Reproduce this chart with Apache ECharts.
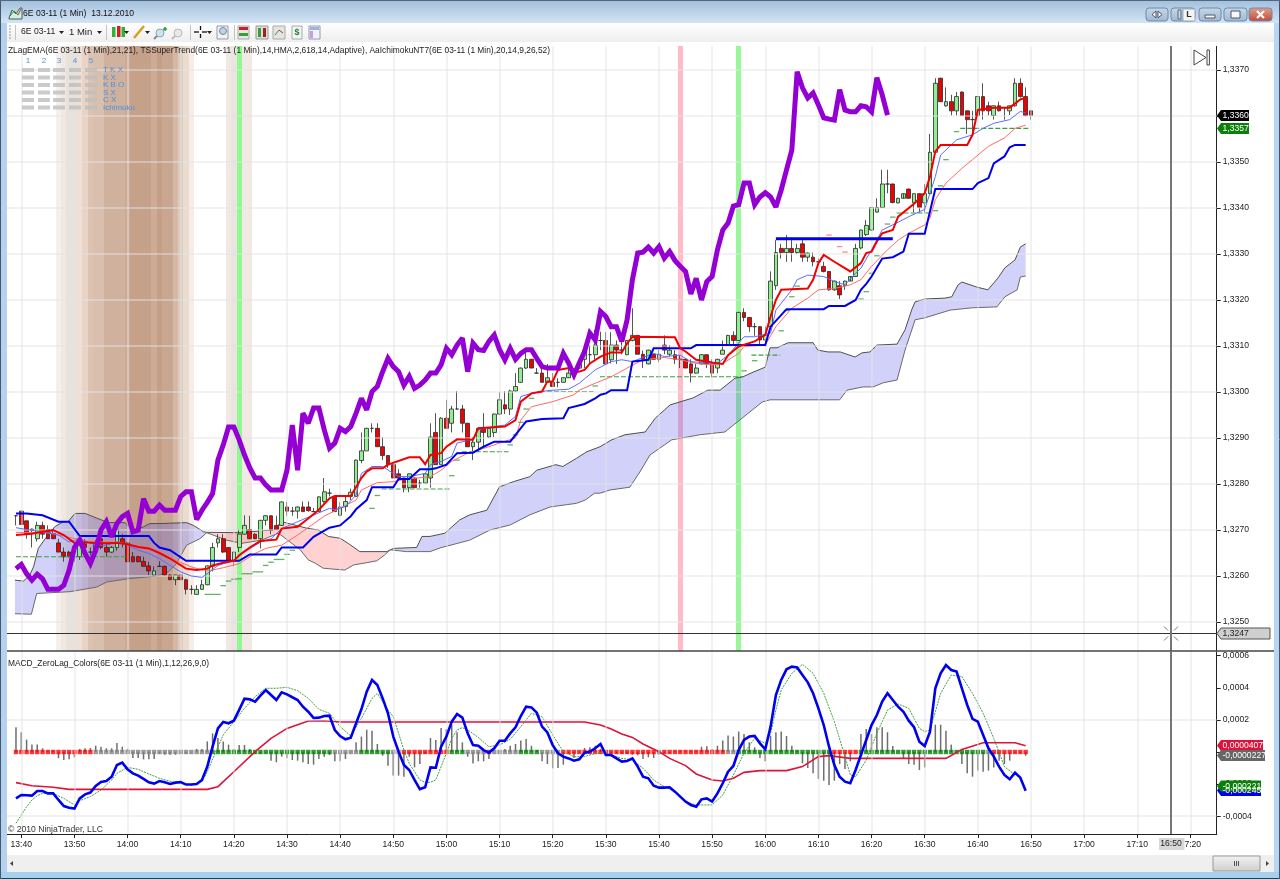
<!DOCTYPE html>
<html><head><meta charset="utf-8">
<style>html,body{margin:0;padding:0;background:#fff}#c{width:1280px;height:879px}</style>
<script src="https://cdn.jsdelivr.net/npm/echarts@6/dist/echarts.min.js"></script>
</head><body><div id="c"></div>
<script>
// Bars are numbered in minutes after 13:40; prices are in 1/10000 units, MACD in 1/10000 units.
const firstBar = -1;
const candleOpen = [13273.1,13274.1,13272,13270.2,13268.1,13271,13270.1,13269.2,13267.2,13265.2,13265.2,
13264.2,13264.2,13267,13265.2,13265.2,13268.1,13266.2,13265.2,13266.2,13268.1,
13267.2,13264.2,13264.2,13263.2,13262.2,13260.2,13262.1,13262.1,13260.2,13259.2,
13260.2,13259.2,13257.1,13256,13257.1,13258.1,13262.1,13267.2,13268.1,13266.2,
13263.2,13266.2,13269.1,13270.1,13269.1,13268.1,13272.1,13273.1,13271,13271,
13275,13274.1,13274.1,13275,13275,13274,13274,13276.2,13278,13277.3,
13273.2,13275.1,13277.3,13277.3,13285.1,13287.2,13292.1,13292.1,13288.1,13286.2,
13284.2,13282.2,13281.3,13279.2,13281.3,13280.2,13280.2,13281.3,13291.2,13284.2,
13294.3,13293.2,13296.3,13296.3,13293.2,13288.1,13289.1,13292.1,13290.2,13291.2,
13295.2,13297.2,13296.3,13300.2,13302.1,13305.2,13307.1,13304.1,13304.1,13302.1,
13302.1,13302.1,13302.1,13303.1,13304.1,13305.2,13307.1,13308.1,13308.1,13311.2,
13311.2,13307,13310.2,13309.1,13308.1,13311.2,13312.3,13308.2,13306.1,13308.2,
13307.1,13310.2,13308.2,13308.1,13307.1,13307.1,13306.1,13304.1,13306.1,13308.1,
13306.1,13305.2,13308.2,13310.2,13312.3,13311.2,13317.3,13316.2,13314.2,13314.2,
13311.3,13314.2,13323.1,13331.2,13330.3,13331.2,13330.3,13332.2,13329.3,13329.3,
13328.3,13327.3,13326.2,13322.2,13323.1,13323.1,13324.1,13325.1,13331.3,13334.2,
13335.2,13339.1,13340.1,13345.2,13345.2,13341.1,13342.1,13344.1,13341.1,13343.1,
13341.1,13343.1,13352.1,13368.2,13362.2,13363.1,13361.1,13365.2,13361.1,13359.2,
13360.1,13364.2,13362.2,13360.1,13362.2,13361.8,13361.1,13362.2,13367.1,13364.2,13361.1];
const candleClose = [13273.1,13271.2,13269.1,13270,13271,13269.1,13268.1,13268.1,13265.2,13264.2,13264.2,
13264.2,13268.1,13266.2,13265.2,13267.2,13266.2,13265.2,13266.2,13270.1,13267.2,
13263.1,13263.1,13263.1,13262.1,13261.1,13261.1,13262.1,13260.2,13259.2,13260.2,
13259.2,13257.1,13257.1,13257.1,13258.1,13262.2,13266.2,13268.1,13265.2,13263.2,
13265.2,13269.1,13271,13268.1,13268.1,13272.1,13273.1,13270.1,13270.1,13276.1,
13274.1,13274.1,13275,13274,13274.2,13274,13277.2,13278.3,13278,13274,
13275,13276.2,13278.2,13285.2,13287.2,13292.1,13292.1,13288.1,13286.2,13284.2,
13281.3,13281.3,13279.2,13282.2,13279.2,13280.2,13282.2,13290.2,13284.2,13294.3,
13292.1,13296.3,13296.3,13293.2,13288.1,13289.1,13292.1,13291.2,13292.1,13295.2,
13298.3,13296.3,13300.2,13301.2,13305.2,13307.1,13305.2,13304.1,13302.1,13303.1,
13301.2,13302.1,13303.1,13304.1,13304.4,13306.1,13309.1,13308.1,13310.2,13311.2,
13306.1,13310.2,13309.1,13309.1,13311.2,13312.3,13308.2,13307.1,13309.1,13307.1,
13308.2,13309.1,13309.1,13307.1,13307.1,13305.2,13304.1,13305.2,13308.1,13306.1,
13304.1,13307.1,13309.1,13312.3,13311.2,13317.3,13316.2,13314.2,13314.2,13311.3,
13312.3,13324.1,13330.3,13330.3,13331.2,13330.3,13331.2,13329.3,13330.2,13328.3,
13328.3,13326.2,13322.2,13324.1,13321.1,13324.1,13325.1,13331.2,13335.2,13336.2,
13340.1,13340.1,13345.2,13345.2,13341.2,13342.1,13343.1,13342.1,13343.1,13340.1,
13343.1,13352.1,13367.1,13363.1,13363.1,13361.1,13364.2,13360.1,13359.2,13359.2,
13364.2,13361.1,13361.1,13362.2,13361.1,13361.8,13362.2,13367.1,13364.2,13360.1,13360.1];
const candleLow = [13271,13271.2,13268.1,13266.2,13267.5,13268.1,13268.1,13268.1,13265.2,13263.1,13264,
13263.1,13263.5,13265,13264.5,13264.8,13265.8,13264.2,13265,13265.5,13266.2,
13263,13263,13263,13262,13260.2,13260,13262,13260.1,13259.1,13258,
13259.1,13256,13256,13256,13257,13258,13261,13266.2,13265,13263.1,
13262.1,13265.2,13269,13268,13268,13266,13271,13269.1,13270,13270.9,
13273.1,13273.1,13272.5,13274,13274,13273.9,13274,13275.9,13277.3,13274,
13273,13274,13276.5,13277.3,13284.5,13287.2,13291.2,13288.1,13285.2,13283.5,
13281.3,13281.3,13278.2,13278.2,13279.2,13279.2,13280.2,13279.2,13284.2,13284.2,
13292,13291.2,13296.2,13291.2,13288,13285.2,13287,13288.1,13290,13290.2,
13295,13295.2,13295,13300,13302,13305,13305.2,13304,13302,13302,
13301.2,13301,13302,13303,13303.2,13305,13305.2,13306,13307.1,13309.1,
13306,13306.2,13306.1,13308.2,13308,13311,13308.2,13305.2,13306,13307,
13306.5,13308.2,13307.7,13306.1,13305.2,13305.2,13302.1,13304,13306,13305.2,
13303.2,13304.1,13308.2,13310,13310.2,13311.2,13315.4,13313.1,13312.2,13310.2,
13310.2,13314,13322.2,13329,13328.3,13328.3,13330,13328.3,13328.3,13327.3,
13327.5,13326,13322,13322,13320.2,13322.2,13325,13325,13331,13333.9,
13335,13339,13340,13343.2,13341,13341,13343,13342,13339,13339,
13339,13343,13352,13363,13362,13360.1,13360.1,13360,13356.1,13356.1,
13360,13359.2,13360.1,13359.2,13361,13359.2,13360.2,13362,13364,13359.9,13359.2];
const candleHigh = [13273.2,13274.2,13272,13270.3,13271.8,13271.8,13271,13270,13268.1,13266.2,13265.5,
13265.2,13268.5,13268,13266.2,13267.8,13268.5,13267,13266.5,13271,13269.1,
13267.4,13265.2,13264.4,13264.2,13263.1,13262.1,13263.2,13262.3,13260.4,13260.3,
13260.3,13259.4,13258,13258,13259.2,13262.3,13267.2,13269.1,13269.1,13266.3,
13265.3,13270.1,13273.2,13273.1,13269.3,13272.2,13273.2,13273.2,13273.1,13276.2,
13276.1,13275,13275.1,13276.2,13276.2,13274.8,13277.3,13281.3,13279,13277.4,
13276,13277.3,13279,13285.3,13291.2,13292.2,13293.2,13293.2,13290.2,13286.3,
13284.3,13283.2,13281.4,13282.3,13281.4,13280.9,13282.3,13293.2,13295.4,13294.5,
13298.3,13297,13300.2,13297.2,13293.3,13290.2,13292.2,13295.4,13292.2,13295.3,
13300,13300.2,13300.5,13304.1,13305.3,13309.2,13307.2,13305.2,13306.1,13306.1,
13304.1,13303,13303.2,13306.3,13305.2,13307,13310.2,13310.2,13313.5,13313.1,
13313,13313,13311.2,13311.2,13311.3,13318.2,13312.4,13309,13309.2,13308.3,
13309.1,13312.3,13310.2,13309.1,13308,13307.2,13307.1,13306.1,13308.2,13308.2,
13307.1,13307.2,13311.2,13312.4,13313.2,13317.4,13318.2,13316.3,13315,13314.3,
13314.2,13326.2,13333,13332.2,13334.1,13333,13332.2,13333,13330.3,13330.3,
13329,13328.3,13326.3,13324.2,13324.1,13324.2,13325.2,13332.2,13335.3,13337.4,
13340.2,13342.1,13348.3,13348.3,13345.3,13342.2,13343.2,13344.2,13343.2,13343.2,
13345.2,13356.1,13368.2,13368.3,13366.2,13364.6,13365.2,13365.3,13361.2,13361.1,
13364.3,13367.1,13363.1,13362.3,13363.1,13361.9,13362.3,13368.2,13368.2,13366.2,13361.2];

const purpleLine = [13261.6,13262.5,13260.5,13259.1,13260.4,13259.4,13257.1,13257.1,13257.1,13258,13261.3,
13266.2,13267.8,13264.9,13262.7,13265.6,13270,13271.8,13268.5,13271.4,13272.9,
13273.6,13269.6,13270,13276.8,13274.1,13274.1,13275.4,13274.3,13274.3,13274.3,
13277.3,13278.3,13278.3,13272.3,13274.3,13276,13277.9,13285.2,13288.5,13292.4,
13292.4,13289.6,13286.3,13283.5,13281.3,13281.3,13279.8,13278.7,13278.7,13278.7,
13283,13292.8,13283,13295.4,13293.2,13296.5,13296.5,13291.8,13287.8,13288.9,
13292.1,13291.4,13292.5,13295.4,13298.6,13296.1,13300.1,13301.2,13304.4,13307.3,
13305.5,13304.4,13301.5,13303.4,13300.8,13301.5,13302.6,13304.1,13304.1,13305.9,
13309.5,13308.1,13310.2,13311.7,13304.4,13310.6,13309.2,13309,13311,13312.4,
13309.2,13307,13309.5,13307.1,13308.4,13309.2,13309.2,13307.3,13305.5,13305.2,
13305.2,13305.2,13308.4,13306.3,13303.7,13306.3,13308.8,13312.8,13311.3,13317.5,
13316.4,13314.2,13314.2,13311,13315.7,13324.4,13330.2,13330.4,13331.5,13330.2,
13331.6,13329.1,13330.5,13328.6,13327.3,13326.2,13321.3,13324.7,13320,13324,
13325.1,13330.9,13335.2,13336.7,13340.4,13340.7,13345.4,13345.4,13340.7,13342.4,
13343.3,13342.4,13340.2,13343.9,13348.3,13352.6,13369.6,13366.1,13363.9,13365,
13362.4,13359.6,13359.3,13359.1,13365.7,13361.3,13360.9,13360.9,13362.2,13362,
13360.9,13368.3,13364.6,13360.2];

const redThick = [[-1,13268.9],[2,13269.2],[4,13269.6],[6,13270],[8,13268.9],[10,13267.2],[11,13267.4],[15,13267.1],[18,13267.2],[20,13266.9],[22,13266.3],[24,13266],[26,13265],[28,13263.8],[31,13261.6],[33,13261.3],[35,13261.6],[36,13262.3],[38,13262.9],[40,13263.3],[41,13264.5],[43,13266.2],[45,13267.6],[48,13267.9],[49,13270.3],[52,13270.7],[54,13272.5],[56,13274.4],[58,13276.9],[59,13277.4],[62,13277.4],[64,13281.3],[65,13282.7],[66,13283.4],[68,13283.4],[69,13284.2],[73,13285.8],[75,13285.8],[76,13284.3],[77,13286.3],[79,13286.7],[80,13288.1],[82,13289.7],[85,13289.6],[86,13292.1],[91,13292.5],[93,13293.9],[94,13297.9],[96,13299.7],[98,13300.1],[99,13302.3],[100,13302.3],[101,13304.8],[103,13305.2],[104,13304.1],[106,13304.8],[107,13306.2],[109,13307.7],[111,13308.6],[113,13308.6],[114,13310.6],[115,13312],[123,13311.9],[124,13309.5],[125,13308.8],[127,13307],[130,13306.4],[132,13306.1],[133,13308],[135,13309.9],[138,13311],[140,13312.4],[141,13316.4],[142,13320],[143,13322.2],[148,13322.5],[149,13324.4],[150,13328],[151,13329.8],[153,13328.3],[156,13326.2],[158,13328],[159,13330.2],[160,13330.5],[161,13332.7],[162,13334.5],[164,13335.2],[165,13338.1],[168,13340.9],[170,13343.2],[171,13346.8],[172,13352.3],[173,13353.7],[178,13353.7],[179,13355.9],[180,13361.3],[183,13361.8],[186,13361.8],[188,13363.6],[189,13363.9]];
const blueThin = [[-1,13270.5],[1,13270.1],[4,13269.6],[7,13268.9],[9,13267.4],[11,13268.1],[14,13266.7],[16,13266.7],[18,13267.4],[20,13266.7],[22,13265.6],[24,13264.9],[26,13263.8],[28,13262.3],[30,13260.9],[32,13260],[34,13259.7],[35,13260.5],[37,13262.3],[40,13263.4],[42,13265.2],[45,13267.4],[47,13268.1],[49,13270.3],[52,13271.8],[58,13274.7],[59,13274.4],[61,13275.1],[63,13277.6],[64,13282.3],[66,13283.8],[68,13283.8],[70,13282.3],[71,13281.6],[73,13281.6],[76,13282.3],[77,13284.2],[79,13284.9],[81,13286],[82,13288.9],[85,13289.7],[86,13291.8],[89,13292.5],[91,13292.8],[93,13294.7],[94,13299],[96,13299.7],[99,13300.3],[103,13300.6],[105,13301.9],[108,13304.8],[111,13306.6],[113,13307],[115,13306.6],[119,13308.4],[121,13307.7],[124,13308],[126,13306.6],[130,13306.2],[131,13306.2],[133,13308],[136,13312],[138,13312],[141,13312.8],[142,13317.8],[145,13322.2],[146,13324.4],[148,13325.4],[151,13325.1],[153,13324],[155,13323.3],[157,13325.8],[158,13326.9],[160,13330.9],[162,13335.2],[165,13336.9],[167,13338.1],[170,13339.7],[171,13343.2],[172,13346.8],[173,13351.5],[176,13354.8],[179,13355.9],[181,13357.3],[183,13358.4],[186,13359.2],[188,13361],[189,13360.6]];
const redThin = [[-1,13269.5],[5,13269.4],[9,13268.4],[13,13267.4],[18,13267.4],[22,13266.5],[24,13266.2],[27,13264.5],[29,13263.4],[32,13262],[34,13261.3],[36,13261.3],[38,13261.8],[41,13262.7],[44,13264.9],[46,13266],[49,13266.7],[52,13268.9],[57,13273],[63,13276.5],[64,13278.7],[67,13280.3],[70,13280.5],[72,13281],[77,13281.6],[79,13283],[81,13284.9],[84,13286.7],[85,13287],[88,13288.1],[90,13288.9],[93,13290],[94,13293.9],[96,13296.8],[100,13297.9],[104,13299.4],[105,13300.4],[108,13301.9],[111,13303.3],[114,13305.2],[117,13307],[121,13307.5],[124,13307],[127,13306.2],[130,13305.9],[132,13306.2],[135,13308.4],[136,13309.9],[140,13310.2],[142,13314.2],[145,13318.2],[148,13320.4],[150,13322.2],[153,13322.5],[156,13323.3],[158,13324.4],[160,13327.3],[163,13330.9],[165,13333],[167,13334.5],[170,13336.3],[171,13337.8],[172,13341.8],[174,13345.4],[177,13348.6],[179,13350.5],[182,13353.4],[185,13355.2],[187,13357.3],[189,13358]];
const blueStop = [[-1,13273.6],[1,13273.6],[4,13273.2],[7,13271.8],[9,13271.8],[11,13268.7],[24,13268.7],[25,13267.2],[26,13266.2],[28,13265.6],[31,13263.3],[41,13263.3],[43,13264.7],[48,13264.7],[49,13266.2],[53,13266.2],[55,13268.5],[58,13270.5],[60,13271],[62,13273],[63,13274.5],[65,13276.5],[66,13279.3],[70,13279.3],[71,13281.1],[73,13281.1],[75,13283.2],[77,13283.2],[78,13283.4],[80,13284.2],[82,13286.7],[85,13286.8],[87,13288.1],[89,13289.2],[92,13289.2],[95,13293.6],[98,13294.1],[102,13294.3],[103,13296.5],[106,13297.4],[108,13298.6],[109,13299.4],[110,13299.7],[111,13300.4],[114,13300.4],[115,13306.6],[118,13307],[119,13309.5],[126,13309.5],[127,13310.2],[140,13310.2],[141,13314.2],[144,13318],[151,13318],[152,13318.7],[155,13318.7],[157,13320],[158,13322.2],[159,13323.5],[160,13325.1],[162,13329],[164,13329.3],[166,13330.5],[167,13334.4],[170,13334.4],[172,13344.1],[179,13344.1],[180,13345.4],[182,13346.5],[183,13349.7],[185,13351.2],[186,13353.2],[187,13353.7],[189,13353.7]];
const blueLevel = [[142,13333.3],[164,13333.3]];

const cloudTop = [[-1.2,13259.1],[0.4,13258.9],[1.6,13260.2],[2.3,13262],[3.2,13266],[4.5,13268.1],[6.3,13270.7],[7.9,13271.8],[8.8,13271.8],[10.1,13273.6],[12,13273.6],[14.8,13272.3],[16.4,13271.6],[19.5,13271.6],[21.1,13269.8],[23,13270.7],[24.2,13271.4],[26.1,13271.4],[31.1,13271.6],[32.4,13271],[34.3,13269.6],[34.9,13269.5],[41.8,13269.4],[45.6,13269.9],[47.4,13269.9],[49,13271.8],[53.7,13270.4],[55.9,13270],[57.8,13268.6],[60,13268.2],[61.5,13267.1],[63.7,13265.3],[68.8,13265.3],[70,13266],[74.4,13266.2],[75.4,13268.6],[76.9,13268.6],[79.7,13269.3],[82.5,13272.2],[84.4,13273.3],[87.6,13274.3],[90,13279.4],[92.6,13280.5],[95.7,13281.6],[97,13283],[100.6,13284.2],[101.9,13283.8],[104.5,13285.6],[106.4,13287],[108.9,13288.1],[111.1,13289.6],[113.6,13290.7],[117.4,13291.3],[119.3,13294.3],[122.1,13297.2],[126.4,13298.7],[129.2,13300.4],[131.5,13300.4],[134.3,13303],[135.8,13303.3],[137.7,13304.3],[140,13305.4],[140.9,13309.6],[142.2,13309.6],[144.3,13310.7],[149,13310.7],[149.9,13309.1],[151.8,13308.7],[154.1,13308.7],[156.9,13307.6],[158.2,13308.5],[159.7,13308.7],[161,13310.2],[164.8,13310.4],[166.3,13313.5],[167.6,13318],[168.2,13319.6],[170,13320.2],[173.8,13320.4],[175.1,13320.7],[176.3,13323.3],[177,13323.9],[179.8,13322.8],[181.9,13322.2],[183.8,13324.8],[185.1,13327],[187,13328.7],[188,13331.5],[189,13332.2]];
const cloudBottom = [[-1.2,13251.8],[1.9,13251.7],[2.9,13256.2],[9.2,13256.6],[14.2,13257.6],[16.1,13258.7],[20.1,13259.4],[25.5,13260],[27.7,13260.9],[29.2,13262.7],[31.1,13266.7],[33.6,13268.1],[34.9,13269.4],[36.1,13268.9],[38.6,13267.8],[41.5,13267.1],[45.2,13267.8],[48.4,13269.3],[52.5,13265.7],[54,13263.5],[55.3,13262.8],[56.8,13261.7],[58.7,13261.5],[60.9,13261.3],[62.5,13262.4],[65,13262.9],[66.9,13263.3],[68.4,13264.6],[69.4,13265.7],[72.5,13265.3],[76.9,13265.3],[78.8,13266.1],[84.4,13267.8],[88.2,13270],[92,13271.1],[95.7,13273.3],[99.5,13275],[102.6,13275.5],[104.5,13275.8],[106.1,13276.5],[107.9,13278],[108.9,13278],[110.8,13278.7],[114.5,13279.3],[116.4,13282.6],[118.3,13286.3],[122.4,13289.6],[127.7,13290.7],[132.4,13291.3],[135.2,13293.9],[139.4,13297.8],[140.9,13298.3],[154,13298.3],[155.4,13300.4],[158.4,13301.1],[160.3,13301.1],[162.2,13302],[164.8,13302.6],[166.3,13309.1],[168.2,13315.7],[170,13316.1],[174.8,13317.8],[179,13318.3],[183.6,13318.5],[185.1,13320.7],[187.4,13322.2],[188,13325],[189,13325.2]];
const cloudSections = [[-1.2,34.9,0],[34.9,69.4,1],[69.4,189,0]];

const stopRuns = [[-1,20,13264.2],[67.8,80.9,13278.9],[82.9,91.7,13287],[97.6,107.7,13300.1],[108.9,135.9,13303.3],[137.4,142.8,13308],[164.7,171.3,13338.9],[176.7,189.5,13357.3]];
const stopTicks = [[35,13256],[36,13256],[37,13256],[38,13257.9],[39,13258.9],[40,13259.3],[41,13259.4],[42,13260.5],[43,13260.5],[44,13260.9],[45,13260.9],[46,13262.3],[47,13263],[48,13263.6],[49,13263.6],[50,13264.7],[51,13265.6],[66,13274.7],[67,13277.5],[81,13281.8],[82,13285.2],[92,13288.5],[93,13290.7],[94,13293.4],[95,13296.3],[96,13298.6],[108,13301.3],[136,13304.6],[138,13306.8],[143,13313.3],[144,13317.7],[145,13320.7],[146,13323],[158,13320.2],[159,13321.8],[160,13325.8],[161,13329.6],[163,13336.5],[164,13338],[172,13339.4],[173,13344.8],[174,13350.5],[176,13356.6]];
const riseTicks = [[152,13334.1],[154,13331.6],[155,13330.4],[20,13272.6],[21,13271.5],[24,13266.2],[26,13265.3],[28,13264],[29,13263.4],[30,13262.4],[32,13261.4]];

const macdLine = [-2.89,-2.68,-2.70,-2.72,-2.43,-2.43,-2.58,-2.58,-2.99,-3.37,-3.47,-3.53,-2.89,-2.64,-2.53,-2.12,-1.87,-1.81,-1.54,-0.81,-0.66,-1.08,-1.33,-1.47,-1.68,-1.89,-1.97,-1.81,-1.89,-1.99,-1.91,-1.87,-2.03,-2.03,-1.99,-1.74,-0.91,0.33,1.47,1.87,1.79,1.95,2.62,3.32,3.28,3.14,3.51,3.86,3.55,3.24,3.72,3.59,3.41,3.24,2.82,2.51,2.12,2.14,2.24,2.26,1.37,0.99,0.79,0.89,1.79,2.66,3.76,4.49,4.17,3.34,2.41,0.96,0.02,
-0.81,-1.12,-1.74,-2.31,-2.2,-0.96,-0.98,0.33,0.96,1.89,2.37,2.14,1.16,0.43,0.39,0.12,-0.04,0.23,0.7,0.7,1.16,1.54,2.24,2.82,2.78,2.45,1.58,1.22,0.43,-0.08,-0.29,-0.4,-0.54,-0.46,-0.04,0.02,0.23,0.5,-0.19,-0.19,-0.4,-0.6,-0.56,-0.4,-0.91,-1.54,-1.64,-2.1,-2.22,-2.22,-2.2,-2.47,-2.78,-3.09,-3.3,-3.41,-2.95,-2.89,-3.09,-2.58,
-1.95,-1.23,-0.87,0.12,0.75,0.96,1,0.54,0.17,1.58,3.55,4.49,5.15,5.32,5.27,4.8,4.34,3.66,2.72,1.68,0.33,-0.81,-1.54,-1.85,-1.95,-1.12,-0.19,0.75,1.68,2.3,3.14,3.66,3.24,2.82,2.51,1.95,1.54,0.64,0.37,1.27,3.97,4.9,5.42,5.11,5.01,3.97,2.93,2.06,1.89,1.06,0.23,-0.29,-0.91,-1.43,-1.7,-1.29,-1.6,-2.41];
const macdSignal = [[-1,-4.44],[0,-3.93],[1,-3.41],[2,-2.99],[3,-2.72],[4,-2.58],[6,-2.58],[8,-2.89],[10,-3.3],[11,-3.03],[13,-2.78],[15,-2.37],[17,-1.75],[18,-1.33],[20,-0.96],[22,-1.08],[24,-1.37],[26,-1.64],[29,-1.91],[32,-2.06],[34,-1.85],[35,-1.23],[37,0.33],[38,1.06],[40,1.89],[42,2.72],[44,3.45],[46,3.97],[48,3.97],[50,4.03],[52,3.82],[54,3.34],[56,2.66],[58,2.41],[60,1.58],[62,1],[64,2.1],[66,3.34],[67,3.65],[69,2.62],[70,2.2],[71,1.16],[72,0.12],[73,-0.71],[74,-1.23],[75,-1.74],[76,-1.89],[77,-1.89],[78,-1.74],[79,-0.91],[80,-0.08],[81,0.85],[82,1.37],[83,1.52],[84,1.37],[86,0.91],[88,0.33],[90,0.44],[92,0.79],[94,1.58],[96,2.41],[98,2.2],[100,1.06],[102,0.02],[104,-0.29],[106,-0.29],[108,-0.08],[110,-0.08],[113,-0.4],[115,-0.5],[117,-1.02],[119,-1.75],[121,-2.16],[123,-2.47],[125,-3.09],[127,-3.3],[130,-3.3],[132,-2.68],[134,-1.43],[136,-0.08],[138,0.85],[140,0.54],[141,1.16],[142,2.62],[143,3.86],[145,4.9],[147,5.46],[149,4.9],[151,3.66],[153,1.89],[155,-0.29],[156,-1.43],[157,-1.54],[159,-0.5],[161,1.16],[163,2.61],[165,2.99],[167,2.72],[169,1.47],[170,1.27],[171,1.37],[173,3.65],[175,4.8],[177,4.69],[179,3.65],[181,2.41],[183,0.85],[185,-0.91],[187,-1.43]];
const macdAverage = [[-1,-1.91],[2,-2.1],[6,-2.2],[9,-2.33],[35,-2.33],[37,-2.16],[40,-1.23],[44,0.02],[47,0.85],[50,1.47],[54,1.93],[57,1.95],[60,1.87],[106,1.87],[109,1.68],[111,1.43],[113,1.12],[115,0.91],[117,0.5],[120,0.02],[122,-0.4],[125,-0.85],[127,-1.37],[130,-1.75],[132,-1.81],[134,-1.64],[136,-1.27],[139,-1.16],[144,-1.16],[147,-0.91],[150,-0.29],[152,-0.23],[156,-0.4],[174,-0.4],[177,0.16],[181,0.58],[187,0.58],[189,0.39]];
const macdHistogram = [1.54,1.23,.77,.46,.46,.23,.08,.08,-.39,-.5,-.46,
-.33,.19,.23,.25,.39,.33,.23,.23,.56,.33,
.19,-.37,-.37,-.46,-.46,-.44,-.12,-.17,-.17,-.17,
-.08,-.12,-.02,.19,.19,.66,1.16,.87,.66,.46,
.17,.44,.44,.19,-.12,-.12,-.02,-.54,-.64,-.29,
-.37,-.5,-.54,-.64,-.75,-.79,-.44,-.29,-.19,-.58,
-.58,-.44,-.02,.6,.96,1.39,1.33,.5,-.23,-.85,
-1.47,-1.47,-1.54,-.3,-.96,-.75,-.12,.87,.75,1.5,
1.43,1.7,1.23,.6,-.29,-.71,-.58,-.58,-.44,.02,
.02,.19,.39,.5,.71,.81,.39,.12,-.58,-.75,
-1.02,-1,-.79,-.12,-.37,-.02,.25,.29,.39,.19,
-.1,-.1,-.1,-.1,-.12,-.17,-.2,-.44,-.33,-.37,
-.17,-.08,-.08,.05,.05,.05,.05,.05,.33,.35,
.19,.39,.71,1.02,.96,1.27,1.12,.6,.29,-.37,
-.58,1.02,1.23,1.27,1,.39,.08,-.71,-1,-1.33,
-1.68,-1.79,-2.06,-1.79,-.75,-1.06,-.58,.02,1.12,1.43,
1.12,1.54,1.54,1.23,.37,.02,-.37,-.75,-.79,-1.12,
-.96,.08,1.7,1.7,1.33,.46,.02,-.75,-1.33,-1.54,
-1.16,-1.23,-1.16,-.96,-.54,-.75,-.54,-.05,-.05,-.23];
// runs of the zero-line state: first bar, last bar, state (0 falling, 1 flat, 2 rising)
const stateRuns = [[-1,13,0],[14,35,1],[36,58,2],[59,63,1],[64,69,2],[70,71,1],[72,80,0],[81,83,2],[84,87,1],[88,88,0],[89,93,1],[94,97,2],[98,101,1],[102,119,0],[120,120,1],[121,132,0],[133,134,1],[135,152,2],[153,157,0],[158,181,2],[182,182,1],[183,189,0]];

const priceTicks = [13250,13260,13270,13280,13290,13300,13310,13320,13330,13340,13350,13360,13370];
const macdTicks = [-4,-2,0,2,4,6];
const macdGrid = [-4,2];
const timeTicks = [0,10,20,30,40,50,60,70,80,90,100,110,120,130,140,150,160,170,180,190,200,210,220];
const timeLabels = ['13:40','13:50','14:00','14:10','14:20','14:30','14:40','14:50','15:00','15:10','15:20','15:30','15:40','15:50','16:00','16:10','16:20','16:30','16:40','16:50','17:00','17:10','17:20'];
const titleText = 'ZLagEMA(6E 03-11 (1 Min),21,21), TSSuperTrend(6E 03-11 (1 Min),14,HMA,2,618,14,Adaptive), AaIchimokuNT7(6E 03-11 (1 Min),20,14,9,26,52)';
const macdTitle = 'MACD_ZeroLag_Colors(6E 03-11 (1 Min),1,12,26,9,0)';
const cursorPrice = 13247.5, cursorBar = 216.35;

const bandBars = [7,8,9,10,11,12,13,14,15,16,17,18,19,20,21,22,23,24,25,26,27,28,29,30,31,32,39,40,42,43,41,124,135];
const bandColors = ['#f6efeb','#efe8e3','#e9e2dc','#e8e1db','#eee0d6','#e8d3c6','#dcc2b1','#d9c0ae','#d9c0ae','#d0b19d','#d0b19d','#d0b19d','#d0b19d','#ccaa94','#c5a18a','#c5a18a','#c5a18a','#c5a18a','#cdab96','#c49f87','#c9a690','#c9a690','#d4b7a4','#e0ccbe','#ebdcd2','#f6ede7','#efe8e4','#ebe5e1','#f2e9e4','#f2e9e4','#90f890','#ffbcc8','#98f898'];

const FONT = '"Liberation Sans", Arial, sans-serif';
const PRICE_MIN = 13243.7, PRICE_MAX = 13375.2, MACD_MIN = -5.11, MACD_MAX = 6.23, BAR_MIN = -2.69, BAR_MAX = 224.95;
const fmtPrice = v => (v/10000).toFixed(4).replace('.',',');
const fmtMacd = v => (v/10000).toFixed(4).replace('.',',');

function at(arr,x){
  if(x<=arr[0][0]) return arr[0][1];
  for(let k=1;k<arr.length;k++){ if(x<=arr[k][0]){const a=arr[k-1],b=arr[k];return a[1]+(b[1]-a[1])*(x-a[0])/(b[0]-a[0]);} }
  return arr[arr.length-1][1];
}
const indexed = (arr) => arr.map((v,k)=>[firstBar+k,v]);

function line(name,data,color,width,z,extra){
  return Object.assign({type:'line',name,data,xAxisIndex:0,yAxisIndex:0,showSymbol:false,symbol:'none',silent:true,animation:false,z,
    lineStyle:{color,width,cap:'butt',join:'miter',miterLimit:2.5}},extra||{});
}
const gridLine = {color:'rgba(226,226,226,0.62)',width:1.5,type:'solid'};
const mark = (lines,style)=>({silent:true,symbol:'none',animation:false,label:{show:false},lineStyle:style,data:lines});

const series = [
  {type:'custom',name:'bands',xAxisIndex:0,yAxisIndex:0,z:-3,silent:true,animation:false,clip:true,
   data:bandBars.map(b=>[b,PRICE_MAX]),
   renderItem(p,api){const cs=p.coordSys;const x0=api.coord([api.value(0)-0.5,PRICE_MAX])[0],x1=api.coord([api.value(0)+0.5,PRICE_MAX])[0];
     return {type:'rect',shape:{x:Math.round(x0),y:cs.y,width:Math.round(x1)-Math.round(x0),height:cs.height},style:{fill:bandColors[p.dataIndex]}};}},
  {type:'line',name:'priceGrid',xAxisIndex:0,yAxisIndex:0,data:[],z:-2,silent:true,animation:false,
   markLine:mark(priceTicks.map(v=>({yAxis:v})).concat(timeTicks.map(v=>({xAxis:v}))),gridLine)},
  {type:'line',name:'macdGrid',xAxisIndex:1,yAxisIndex:1,data:[],z:-2,silent:true,animation:false,
   markLine:mark(macdGrid.map(v=>({yAxis:v})).concat(timeTicks.map(v=>({xAxis:v}))),gridLine)},
  {type:'custom',name:'cloud',xAxisIndex:0,yAxisIndex:0,z:1,silent:true,animation:false,
   data:cloudSections,
   renderItem(p,api){const a=api.value(0),b=api.value(1),c=api.value(2);
     const xs=t=>t.map(q=>q[0]).filter(x=>x>a&&x<b);
     const up=[a].concat(xs(cloudTop),[b]).map(x=>api.coord([x,at(cloudTop,x)]));
     const dn=[a].concat(xs(cloudBottom),[b]).map(x=>api.coord([x,at(cloudBottom,x)])).reverse();
     return {type:'polygon',shape:{points:up.concat(dn)},style:{fill:c?'rgba(255,90,90,0.28)':'rgba(90,90,235,0.28)'}};}},
  line('cloudTop',cloudTop,'#4f4f4f',1,2),
  line('cloudBottom',cloudBottom,'#6a6a6a',1,2),
  {type:'candlestick',name:'6E 03-11',xAxisIndex:0,yAxisIndex:0,z:3,silent:true,animation:false,barWidth:4.2,
   encode:{x:0,y:[1,2,3,4]},
   data:candleOpen.map((o,k)=>[firstBar+k,o,candleClose[k],candleLow[k],candleHigh[k]]),
   itemStyle:{color:'#8fee8f',color0:'#f00000',borderColor:'#2a2a2a',borderColor0:'#2a2a2a',borderColorDoji:'#2a2a2a',borderWidth:0.8}},
  line('purple',indexed(purpleLine),'#9400d3',5,7),
  ...stopRuns.map((r,k)=>line('stopRun'+k,[[r[0],r[2]],[r[1],r[2]]],'#3f9f3f',1.1,4,{lineStyle:{color:'#3f9f3f',width:1.1,type:[5,2]}})),
  {type:'scatter',name:'stopTicks',xAxisIndex:0,yAxisIndex:0,z:4,silent:true,animation:false,symbol:'rect',symbolSize:[5.5,1.3],data:stopTicks,itemStyle:{color:'#3f9f3f'}},
  {type:'scatter',name:'riseTicks',xAxisIndex:0,yAxisIndex:0,z:4,silent:true,animation:false,symbol:'rect',symbolSize:[5.5,1.3],data:riseTicks,itemStyle:{color:'#ff7070'}},
  line('redThin',redThin,'#ff6a6a',1,5),
  line('blueThin',blueThin,'#5a6cff',1,5),
  line('blueStop',blueStop,'#0000ee',2,6),
  line('redThick',redThick,'#f20000',2,6),
  line('blueLevel',blueLevel,'#0000ee',3,6),
  {type:'line',name:'cursorPrice',xAxisIndex:0,yAxisIndex:0,data:[],z:8,silent:true,animation:false,
   markLine:mark([{yAxis:cursorPrice}],{color:'#333',width:1.2,type:'solid'})},
  {type:'line',name:'cursorBarPrice',xAxisIndex:0,yAxisIndex:0,data:[],z:8,silent:true,animation:false,
   markLine:mark([{xAxis:cursorBar}],{color:'#777',width:2,type:'solid'})},
  {type:'line',name:'cursorBarMacd',xAxisIndex:1,yAxisIndex:1,data:[],z:8,silent:true,animation:false,
   markLine:mark([{xAxis:cursorBar}],{color:'#777',width:2,type:'solid'})},
  {type:'bar',name:'histogram',xAxisIndex:1,yAxisIndex:1,z:2,silent:true,animation:false,barWidth:1.5,
   data:indexed(macdHistogram),itemStyle:{color:'#6e6e6e'}},
  {type:'scatter',name:'state',xAxisIndex:1,yAxisIndex:1,z:3,silent:true,animation:false,symbol:'rect',symbolSize:4.4,
   data:stateRuns.flatMap(r=>{const o=[];for(let b=r[0];b<=r[1];b++)o.push({value:[b,0],itemStyle:{color:['#ff0000','#808080','#008000'][r[2]]}});return o;})},
  Object.assign(line('macdAverage',macdAverage,'#dc143c',1.6,4),{xAxisIndex:1,yAxisIndex:1}),
  Object.assign(line('macdSignal',macdSignal,'#3f9f3f',1,4),{xAxisIndex:1,yAxisIndex:1,lineStyle:{color:'#3f9f3f',width:1,type:[2,1]}}),
  Object.assign(line('macdLine',indexed(macdLine),'#0000f0',2.6,5),{xAxisIndex:1,yAxisIndex:1})
];

// window chrome and overlays
const G=[];const Z=100;
const R=(x,y,w,h,fill,o)=>G.push(Object.assign({type:'rect',silent:true,z:Z,shape:{x,y,width:w,height:h,r:(o&&o.r)||0},style:{fill,stroke:(o&&o.stroke)||null,lineWidth:(o&&o.lw)||1}},o&&o.zz?{z:o.zz}:{}));
const T=(x,y,text,o)=>{o=o||{};G.push({type:'text',silent:true,z:o.z||Z+1,style:{x,y,text,fill:o.fill||'#222',font:(o.bold?'bold ':'')+(o.size||9)+'px '+FONT,textVerticalAlign:'middle',textAlign:o.align||'left'}});};
const L=(x1,y1,x2,y2,c,w)=>G.push({type:'line',silent:true,z:Z,shape:{x1,y1,x2,y2},style:{stroke:c,lineWidth:w||1}});
const P=(pts,fill,stroke,w)=>G.push({type:'polygon',silent:true,z:Z,shape:{points:pts},style:{fill:fill||null,stroke:stroke||null,lineWidth:w||1}});
const grad=(a,b)=>({type:'linear',x:0,y:0,x2:0,y2:1,colorStops:[{offset:0,color:a},{offset:1,color:b}]});

R(0,0,1280,23,grad('#a3bfdc','#d3e4f4'));
R(0,23,7,849,'#b4d2ee');
R(1274,23,6,849,'#b7d6f2');
R(0,872,1280,7,'#a9cfee');
L(0,878.5,1280,878.5,'#24414f',1.2);
L(0.5,0,0.5,879,'#3f5a70',1);L(1279.5,0,1279.5,879,'#3f5a70',1);L(0,0.5,1280,0.5,'#4f6a80',1);
R(7,23,1267,19,grad('#ffffff','#eeeeee'));
L(7,45.5,1274,45.5,'#e4e4e4',1);
R(7,42,1267,4,'#ffffff');
R(7,855,1267,17,'#efefef');
// title bar
P([[9,18],[12,10],[16,14],[20,8],[22,8],[22,19],[9,19]],'#d8ece0','#406060',1);
L(10,16,14,11,'#2c8a2c',1);L(14,11,18,15,'#2c8a2c',1);L(18,15,21,9,'#c03030',1);
T(23,14,'6E 03-11 (1 Min)  13.12.2010',{size:8.6,fill:'#111'});
// toolbar
for(let y=26;y<=38;y+=3)L(9,y,11,y,'#999',1);
L(15.5,25,15.5,40,'#c4c4c4',1);
T(21,32,'6E 03-11',{size:8.6});P([[59,31],[64,31],[61.5,34]],'#222');
T(69,32,'1 Min',{size:9.5});P([[97,31],[102,31],[99.5,34]],'#222');
L(106.5,25,106.5,40,'#c4c4c4',1);
R(112,27,3.5,10,'#35b035');R(117,26,3.5,11,'#d02020');R(121.5,27,3.5,10,'#35b035');P([[124,31],[129,31],[126.5,34]],'#222');
L(134,38,144,26,'#d8a020',2.5);P([[145,31],[150,31],[147.5,34]],'#222');
G.push({type:'circle',silent:true,z:Z,shape:{cx:160,cy:33,r:4},style:{fill:'#cfe2f0',stroke:'#8aa',lineWidth:1}});L(157,36,154,39,'#888',2);L(165,27,165,31,'#20a040',1.5);L(163,29,167,29,'#20a040',1.5);
G.push({type:'circle',silent:true,z:Z,shape:{cx:178,cy:33,r:4},style:{fill:'#e8e8e8',stroke:'#bbb',lineWidth:1}});L(175,36,172,39,'#bbb',2);
L(190.5,25,190.5,40,'#c4c4c4',1);
L(194,32,199,32,'#111',1.3);L(202,32,207,32,'#111',1.3);L(200.5,26,200.5,30,'#111',1.3);L(200.5,34,200.5,38,'#111',1.3);P([[207,31],[212,31],[209.5,34]],'#222');
R(217,26,11,13,'#f2f2f2',{stroke:'#99a'});G.push({type:'circle',silent:true,z:Z,shape:{cx:223,cy:31,r:3.5},style:{fill:'#bcd4e8',stroke:'#789',lineWidth:1}});
L(234.5,25,234.5,40,'#c4c4c4',1);
R(238,26,11,13,'#e8e8e8',{stroke:'#aaa'});R(239,27,9,3,'#d02020');R(239,33,9,3,'#35a035');
R(256,26,12,13,'#ddd',{stroke:'#999'});R(258,28,3,9,'#35a035');R(263,28,3,9,'#a02020');
R(273,26,12,13,'#e4e4e4',{stroke:'#aaa'});L(275,35,279,30,'#30a030',1);L(279,30,283,33,'#c03030',1);
R(292,26,10,13,'#f4f4f4',{stroke:'#aaa'});T(297,33,'$',{size:9,bold:true,fill:'#208030',align:'center'});
R(309,26,11,13,'#f2f2ff',{stroke:'#99a'});R(310,27,9,3,'#a0b0e0');R(310,31,3,7,'#c0a0e0');
// window buttons
const btn=(x,w,f)=>R(x,8,w,13,grad(f[0],f[1]),{stroke:'#6f8aa8',r:3});
btn(1146,22,['#c8d8e8','#9db8d2']);P([[1152,14.5],[1156,11],[1156,18]],'#f4f8fb','#556');P([[1162,14.5],[1158,11],[1158,18]],'#f4f8fb','#556');
btn(1171,24,['#c8d8e8','#9db8d2']);R(1183,9,12,12,'#f4f4f4',{stroke:'#9ab'});T(1189,15,'L',{size:9,bold:true,align:'center',fill:'#333'});R(1178,10,3,9,'#c8d8e8',{stroke:'#667'});
btn(1199,22,['#c8d8e8','#9db8d2']);R(1205,15,10,3,'#f4f8fb',{stroke:'#556'});
btn(1224,23,['#c8d8e8','#9db8d2']);R(1231,11,9,7,'#f4f8fb',{stroke:'#556'});
btn(1249,23,['#e0a090','#c04a38']);L(1257,11,1264,18,'#fff',2.2);L(1264,11,1257,18,'#fff',2.2);
// scrollbar
P([[13,861],[13,866],[10,863.5]],'#444');
R(1213,856,47,15,grad('#f2f2f2','#cfcfcf'),{stroke:'#999'});
L(1234.5,861,1234.5,866,'#555',1);L(1236.5,861,1236.5,866,'#555',1);L(1238.5,861,1238.5,866,'#555',1);
P([[1266,861],[1266,866],[1269,863.5]],'#444');
// pane titles
T(8,51,titleText,{size:8.4,fill:'#222'});
T(8,664,macdTitle,{size:8.4,fill:'#222'});
T(8,829.5,'© 2010 NinjaTrader, LLC',{size:8.6,fill:'#333'});
// Ichimoku legend panel
const colX=[22,38,53,69,85], panelRows=[70,77.5,85,92.5,100,107.5], panelNames=['T K X','K X','K B O','S X','C X','Ichimoku'];
colX.forEach((x,k)=>{T(x+6,61,String(k+1),{size:8,fill:'#4a90e2',align:'center'});panelRows.forEach(y=>R(x,y-2,12,4,'rgba(190,190,190,0.8)'));});
panelRows.forEach((y,k)=>T(103,y,panelNames[k],{size:8,fill:'#4a90e2'}));
// jump-to-end glyph
P([[1194,50],[1194,65],[1206,57.5]],'#fff','#444',1);R(1207,50,2.4,15,'#fff',{stroke:'#444'});
// cursor ticks
[[-1,-1],[1,-1],[-1,1],[1,1]].forEach(d=>L(1171+d[0]*3,633.5+d[1]*3,1171+d[0]*7,633.5+d[1]*7,'#777',1));
// pane separator
L(7,651,1274,651,'#444',1.5);
// value tags
const tag=(y,w,fill,text,tc,st)=>{P([[1217,y],[1221,y-5.5],[w,y-5.5],[w,y+5.5],[1221,y+5.5]],fill,st||null,1);T(1222.5,y+0.3,text,{size:8.6,fill:tc});};
tag(115.5,1249,'#000','1,3360','#fff');
tag(128.5,1249,'#0a800a','1,3357','#fff');
tag(633.5,1270,'#cfcfcf','1,3247','#222','#555');
tag(790.5,1261,'#0000e6','-0,000245','#fff');
tag(786,1261,'#0a800a','-0,000221','#fff');
tag(745.5,1263,'#dc143c','0,0000407','#fff');
tag(755.5,1265,'#666','-0,0000227','#fff');
// cursor time box
R(1159,838,25.5,12,'#d8d8d8');T(1171,844,'16:50',{size:8.6,align:'center',fill:'#222'});

const axisLbl = {fontFamily:FONT,fontSize:8.6,color:'#222'};
const option = {
  backgroundColor:'#fff',animation:false,
  grid:[{left:7,top:46,width:1209.7,height:605,containLabel:false},{left:7,top:652,width:1209.7,height:182,containLabel:false}],
  xAxis:[
    {type:'value',gridIndex:0,min:BAR_MIN,max:BAR_MAX,show:false,splitLine:{show:false}},
    {type:'value',gridIndex:1,min:BAR_MIN,max:BAR_MAX,position:'bottom',splitLine:{show:false},
     axisLine:{onZero:false,lineStyle:{color:'#222',width:1}},
     axisTick:{show:true,length:4,customValues:timeTicks,lineStyle:{color:'#222'}},
     axisLabel:Object.assign({},axisLbl,{margin:6,customValues:timeTicks,hideOverlap:false,formatter:v=>timeLabels[timeTicks.indexOf(v)]||''})}
  ],
  yAxis:[
    {type:'value',gridIndex:0,position:'right',min:PRICE_MIN,max:PRICE_MAX,splitLine:{show:false},
     axisLine:{show:true,onZero:false,lineStyle:{color:'#222',width:1}},
     axisTick:{show:true,length:4,customValues:priceTicks,lineStyle:{color:'#222'}},
     axisLabel:Object.assign({},axisLbl,{margin:6,customValues:priceTicks,formatter:fmtPrice})},
    {type:'value',gridIndex:1,position:'right',min:MACD_MIN,max:MACD_MAX,splitLine:{show:false},
     axisLine:{show:true,onZero:false,lineStyle:{color:'#222',width:1}},
     axisTick:{show:true,length:4,customValues:macdTicks,lineStyle:{color:'#222'}},
     axisLabel:Object.assign({},axisLbl,{margin:6,customValues:macdTicks,formatter:fmtMacd})}
  ],
  series,
  graphic:{elements:G}
};
const chart = echarts.init(document.getElementById('c'),null,{renderer:'canvas'});
chart.setOption(option);
</script></body></html>
